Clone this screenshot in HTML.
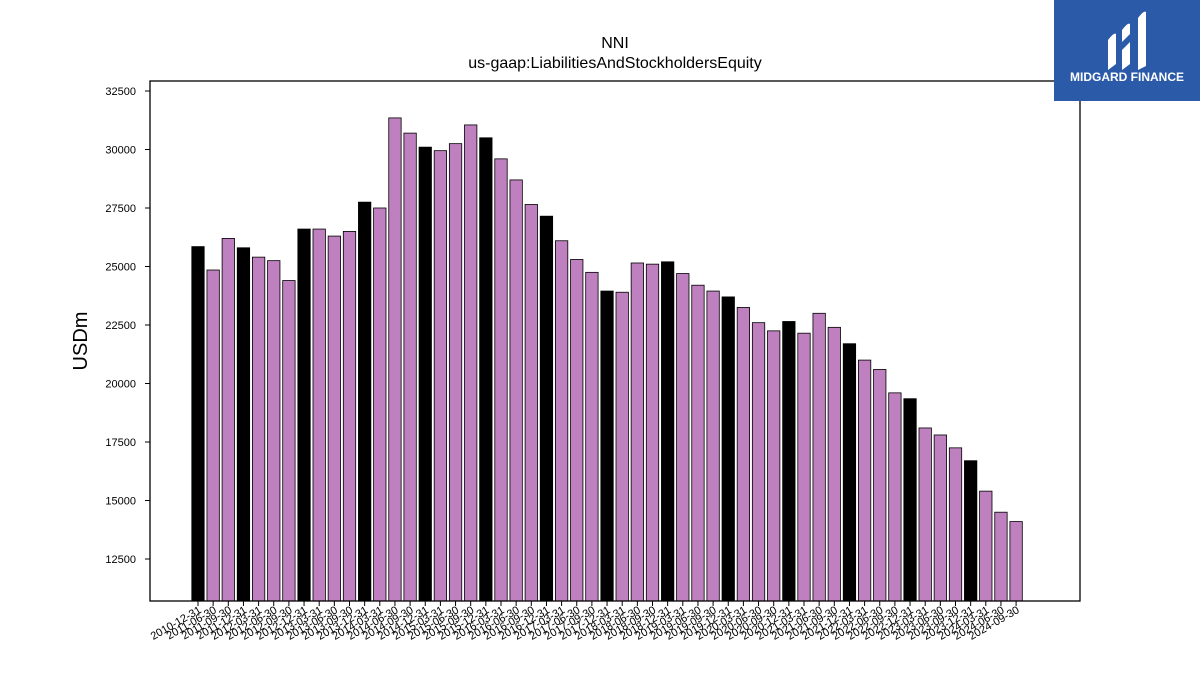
<!DOCTYPE html>
<html><head><meta charset="utf-8"><style>
body{margin:0;background:#fff;font-family:"Liberation Sans","DejaVu Sans",sans-serif}
</style></head><body>
<svg id="c" width="1200" height="675" xmlns="http://www.w3.org/2000/svg">
<rect width="1200" height="675" fill="#fff"/>
<text x="615" y="48" text-anchor="middle" font-size="16">NNI</text>
<text x="615" y="68" text-anchor="middle" font-size="16">us-gaap:LiabilitiesAndStockholdersEquity</text>
<text transform="translate(87,341) rotate(-90)" text-anchor="middle" font-size="20">USDm</text>
<g id="bars"></g><g id="yt"></g><g id="xt"></g>
<rect x="150" y="81" width="930" height="520" fill="none" stroke="#000" stroke-width="1.3"/>
<g>
<rect x="1054" y="0" width="146" height="101" fill="#2b5aa8"/>
<path d="M1108 40 q6-8 8-6 v30 l-8 6z M1122 30 q6-8 8-6 v10 l-8 8z M1122 50 l8-8 v22 l-8 6z M1138 18 q6-8 8-6 v54 l-8 4z" fill="#fff"/>
<text x="1127" y="81" text-anchor="middle" fill="#fff" font-size="12" font-weight="bold">MIDGARD FINANCE</text>
</g>
</svg>
<script>
const dates=["2010-12-31","2011-06-30","2011-09-30","2011-12-31"];
for(let y=2012;y<=2024;y++){for(const q of ["03-31","06-30","09-30","12-31"]){if(y===2024&&q==="12-31")continue;dates.push(y+"-"+q);}}
const values=[25850,24850,26200,25800,25400,25250,24400,26600,26600,26300,26500,27750,27500,31350,30700,30100,29950,30250,31050,30500,29600,28700,27650,27150,26100,25300,24750,23950,23900,25150,25100,25200,24700,24200,23950,23700,23250,22600,22250,22650,22150,23000,22400,21700,21000,20600,19600,19350,18100,17800,17250,16700,15400,14500,14100];
const yTicks=[12500,15000,17500,20000,22500,25000,27500,30000,32500];
const ns="http://www.w3.org/2000/svg";
const y=v=>601-(v-10705)*0.0234;
const x=i=>198+i*15.15;
function mk(t,a,p){const e=document.createElementNS(ns,t);for(const k in a)e.setAttribute(k,a[k]);p.appendChild(e);return e;}
const B=document.getElementById('bars'),YT=document.getElementById('yt'),XT=document.getElementById('xt');
values.forEach((v,i)=>{
 const black=dates[i].endsWith("12-31");
 const r=mk('rect',{x:x(i)-6.2,y:y(v),width:12.4,height:601-y(v),fill:black?'#000':'#bf80bf',stroke:'#000','stroke-width':0.8},B);
 
 
 mk('line',{x1:x(i),x2:x(i),y1:601,y2:606,stroke:'#000'},XT);
 const t=mk('text',{x:x(i)+4,y:612,'font-size':11,'text-anchor':'end',transform:`rotate(-30 ${x(i)+4} 612)`},XT);
 t.textContent=dates[i];
 
 
});
yTicks.forEach(v=>{
 mk('line',{x1:145,x2:150,y1:y(v),y2:y(v),stroke:'#000'},YT);
 const t=mk('text',{x:136,y:y(v)+4,'font-size':11,'text-anchor':'end'},YT);
 t.textContent=v;
 
 
});
</script>
</body></html>
